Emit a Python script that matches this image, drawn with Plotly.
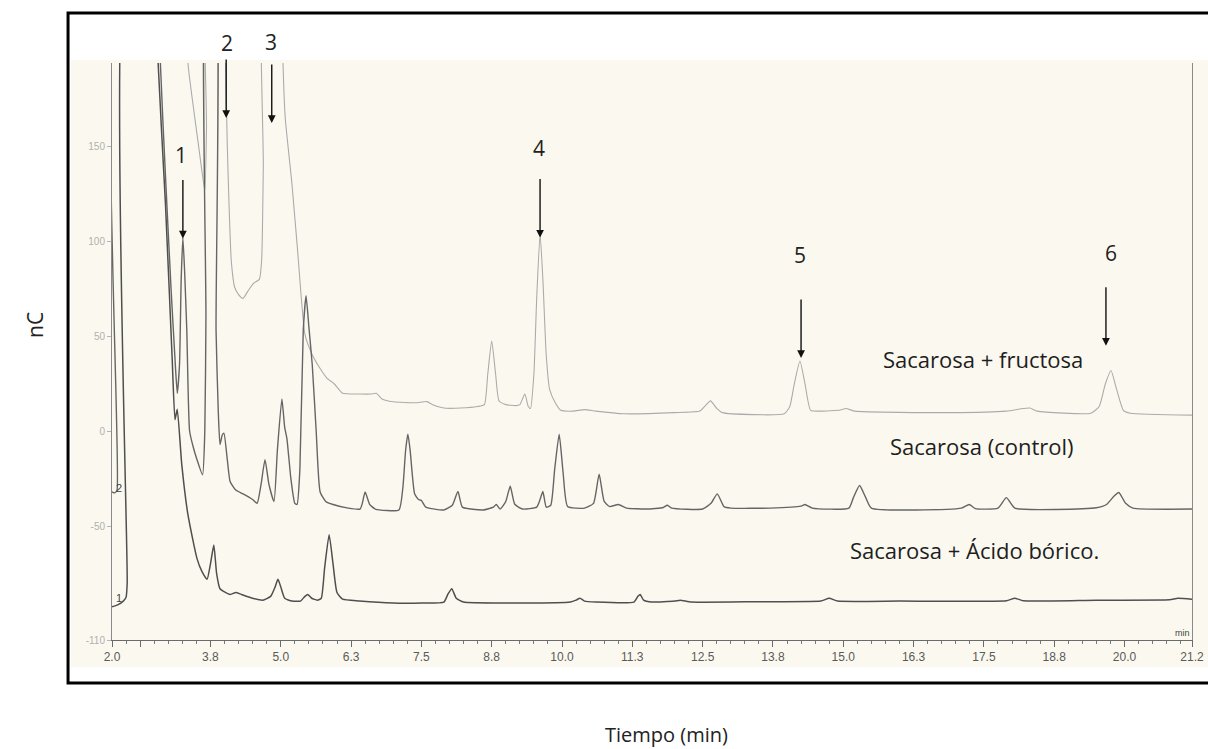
import plotly.graph_objects as go

# --- retention time (min) / signal (nC) for each chromatogram -------------
# values above the axis top (off-scale peaks) are kept at 260 so they clip
t_borico = [2.00, 2.10, 2.20, 2.25, 2.27, 2.28, 2.78, 2.82, 2.95, 3.07, 3.12, 3.16, 3.24, 3.35,
            3.51, 3.60, 3.69, 3.75, 3.81, 3.86, 3.92, 4.10, 4.20, 4.30, 4.50, 4.68, 4.82, 4.90,
            4.95, 5.00, 5.07, 5.20, 5.35, 5.43, 5.48, 5.55, 5.65, 5.72, 5.78, 5.86, 5.93, 6.00,
            6.10, 6.40, 7.00, 7.50, 7.90, 7.97, 8.04, 8.12, 8.25, 9.00, 10.15, 10.25, 10.32,
            10.40, 10.60, 11.28, 11.35, 11.39, 11.45, 11.60, 12.00, 12.10, 12.30, 13.50, 14.60,
            14.75, 14.90, 16.00, 17.90, 18.05, 18.20, 19.50, 20.80, 20.95, 21.20]
v_borico = [-92.5, -91.5, -89.5, -87.5, -80, 260, 260, 194, 120, 38, 6, 11.6, -17.5, -44,
            -67, -74, -78, -70, -60, -75, -83, -86, -85, -86, -88, -89, -87, -82,
            -78, -82, -88, -89.5, -89.5, -87, -86, -88, -89, -88, -72, -54.5, -70, -85,
            -88.5, -89.4, -90.5, -90.5, -90, -86, -83, -88, -90, -90.5, -90, -89, -88,
            -89.5, -90, -90, -87, -86, -89, -90, -89.5, -89, -90, -89.8, -89.5,
            -88, -89.5, -89.5, -89.3, -88, -89.3, -89, -88.8, -88, -88.5]

t_control = [2.00, 2.05, 2.09, 2.10, 2.83, 2.86, 2.95, 3.05, 3.12, 3.16, 3.20, 3.23, 3.26, 3.29,
             3.33, 3.38, 3.45, 3.50, 3.61, 3.65, 3.67, 3.69, 3.82, 3.85, 3.89, 3.92, 3.96, 3.99,
             4.05, 4.10, 4.20, 4.33, 4.50, 4.58, 4.65, 4.72, 4.79, 4.88, 4.94, 5.02, 5.07, 5.11,
             5.18, 5.25, 5.29, 5.34, 5.40, 5.45, 5.50, 5.56, 5.63, 5.70, 5.80, 5.93, 6.20, 6.41,
             6.45, 6.50, 6.58, 6.68, 7.10, 7.17, 7.22, 7.26, 7.30, 7.38, 7.45, 7.50, 7.58, 7.90,
             8.05, 8.15, 8.23, 8.60, 8.78, 8.83, 8.90, 9.00, 9.08, 9.16, 9.30, 9.55, 9.61, 9.66,
             9.72, 9.80, 9.87, 9.95, 10.02, 10.10, 10.40, 10.56, 10.66, 10.75, 10.85, 11.00,
             11.15, 11.50, 11.80, 11.87, 11.95, 12.50, 12.65, 12.76, 12.88, 13.00, 13.70, 14.25,
             14.32, 14.45, 15.10, 15.18, 15.29, 15.40, 15.50, 17.10, 17.24, 17.35, 17.75, 17.90,
             18.05, 19.50, 19.68, 19.82, 19.90, 20.02, 20.15, 21.20]
v_control = [-32, -32.5, -31, 260, 260, 194, 135, 75, 38, 20, 35, 80, 102, 85,
             53, 0, -9, -14, -23, 0, 60, 260, 260, 53, 10, -7, -2, -1,
             -15, -26.5, -31, -33, -36, -38, -28, -15, -28, -37, -10, 17, 2, -4,
             -25, -38, -38.6, -20, 53, 71.4, 55, 35, 0, -32, -37, -38.6, -40.5, -41,
             -38, -32, -38.5, -41, -41.5, -30, -10, -1.6, -10, -33, -36, -36.5, -40, -41.5,
             -39, -31.7, -40, -41.5, -40, -38.6, -41, -37, -29, -38.5, -41, -40, -36, -31.7,
             -40, -39, -20, -1.6, -22, -39.7, -40.5, -38, -22.7, -37, -39.7, -38.6,
             -40.5, -41, -40.2, -39, -40.5, -41, -38, -33, -39.7, -40.5, -40.5, -39.5,
             -38.6, -40.5, -40.5, -35, -28.6, -35, -40.5, -40.5, -38.6, -40.8, -40.5, -35,
             -40.5, -40.3, -38.6, -34, -32.3, -38, -40.5, -41]

t_fructosa = [2.00, 3.30, 3.35, 3.45, 3.55, 3.65, 3.68, 3.70, 3.98, 4.02, 4.05, 4.08, 4.12, 4.18,
              4.25, 4.33, 4.42, 4.52, 4.62, 4.66, 4.69, 4.71, 5.00, 5.04, 5.08, 5.20, 5.30, 5.43,
              5.55, 5.70, 5.82, 5.95, 6.10, 6.41, 6.60, 6.70, 6.80, 7.00, 7.40, 7.60, 7.70, 7.90,
              8.20, 8.50, 8.62, 8.68, 8.75, 8.82, 8.88, 9.00, 9.18, 9.25, 9.34, 9.40, 9.44, 9.50,
              9.55, 9.61, 9.66, 9.72, 9.78, 9.88, 9.98, 10.20, 10.40, 10.60, 11.10, 12.00, 12.45,
              12.55, 12.64, 12.75, 12.85, 13.95, 14.05, 14.13, 14.23, 14.32, 14.42, 14.60, 14.95,
              15.05, 15.20, 16.90, 17.90, 18.20, 18.32, 18.45, 19.40, 19.55, 19.66, 19.76, 19.86,
              19.98, 20.10, 21.20]
v_fructosa = [260, 260, 194, 170, 148, 127, 160, 260, 260, 194, 150, 120, 90, 76,
              72, 70, 74, 78, 80, 90, 140, 260, 260, 194, 165, 130, 95, 51,
              41, 33, 28, 25, 20, 19.6, 19.6, 20, 17, 15.5, 15, 15.6, 14, 12.2,
              12.2, 13, 14, 30, 47.6, 30, 16, 14, 13.5, 14, 19.6, 13, 12, 30,
              70, 104, 80, 40, 22, 15, 11, 10.6, 11.4, 10.6, 9.2, 9.8, 10.6,
              13.5, 16, 12, 9.8, 9.2, 13, 25, 37, 25, 11, 10.6, 11.2,
              12, 10.6, 9.8, 10.6, 12, 12.2, 10.6, 9.5, 13, 25, 32, 22,
              11, 9.5, 8.5]

# axis ticks
Y_MIN, Y_MAX = -110, 194
x_tick_vals = [2.0, 2.5, 3.75, 5.0, 6.25, 7.5, 8.75, 10.0, 11.25, 12.5, 13.75, 15.0,
               16.25, 17.5, 18.75, 20.0, 21.2]
x_tick_text = ["2.0", "", "3.8", "5.0", "6.3", "7.5", "8.8", "10.0", "11.3", "12.5",
               "13.8", "15.0", "16.3", "17.5", "18.8", "20.0", "21.2"]
y_tick_vals = [-110, -50, 0, 50, 100, 150]
y_tick_text = ["-110", "-50", "0", "50", "100", "150"]

# numbered peaks: label, arrow tip (min, nC), label position (min, nC)
peak_ids = ["1", "2", "3", "4", "5", "6"]
arrow_t = [3.26, 4.03, 4.84, 9.61, 14.25, 19.67]
arrow_v = [101.6, 165, 162.4, 102, 38.6, 45]
label_t = [3.23, 4.04, 4.83, 9.59, 14.23, 19.76]
label_v = [145.5, 204.8, 205, 149, 92.6, 94]

# sample names written next to the traces
sample_names = ["Sacarosa + fructosa", "Sacarosa (control)", "Sacarosa + Ácido bórico."]
sample_t = [17.48, 17.47, 17.34]
sample_v = [38, -8, -62.4]

CREAM = "#FBF9EF"
TEXT_FONT = "'Open Sans', Lato, sans-serif"
LINE = dict(shape="spline", smoothing=0.5)


def to_paper_y(v):
    # data value -> paper fraction, so labels above the axis top stay visible
    return (v - Y_MIN) / (Y_MAX - Y_MIN)


fig = go.Figure()
fig.add_trace(go.Scatter(x=t_fructosa, y=v_fructosa, mode="lines",
                         line=dict(color="#ABABAB", width=1.1, **LINE), name="3"))
fig.add_trace(go.Scatter(x=t_control, y=v_control, mode="lines",
                         line=dict(color="#656565", width=1.4, **LINE), name="2"))
fig.add_trace(go.Scatter(x=t_borico, y=v_borico, mode="lines",
                         line=dict(color="#4F4F4F", width=1.5, **LINE), name="1"))

annotations = []
for pid, at, av, lt, lv in zip(peak_ids, arrow_t, arrow_v, label_t, label_v):
    annotations.append(dict(x=at, y=av, xref="x", yref="y", ax=0, ay=-60, text="",
                            showarrow=True, arrowhead=2, arrowsize=1.1, arrowwidth=1.4,
                            arrowcolor="#111111", standoff=0))
    annotations.append(dict(x=lt, y=to_paper_y(lv), xref="x", yref="paper", text=pid,
                            showarrow=False, xanchor="center", yanchor="middle",
                            font=dict(family=TEXT_FONT, size=21, color="#222222")))
for name, st, sv in zip(sample_names, sample_t, sample_v):
    annotations.append(dict(x=st, y=sv, xref="x", yref="y", text=name, showarrow=False,
                            xanchor="center",
                            font=dict(family=TEXT_FONT, size=22, color="#1E1E1E")))

# trace numbers at the start of each run and the unit mark at the axis end
annotations += [
    dict(x=2.03, y=-88, xref="x", yref="y", text="1", showarrow=False, xanchor="left",
         font=dict(family="Liberation Sans", size=11, color="#444444")),
    dict(x=2.03, y=-30, xref="x", yref="y", text="2", showarrow=False, xanchor="left",
         font=dict(family="Liberation Sans", size=11, color="#444444")),
    dict(x=21.2, y=-110, xref="x", yref="y", text="min", showarrow=False,
         xanchor="right", yanchor="bottom",
         font=dict(family="Liberation Sans", size=9, color="#444444")),
    dict(x=-0.0713, y=0.546, xref="paper", yref="paper", text="nC", showarrow=False,
         xanchor="center", yanchor="middle", textangle=-90,
         font=dict(family=TEXT_FONT, size=21, color="#222222")),
    dict(x=0.513, y=-0.163, xref="paper", yref="paper", text="Tiempo (min)", showarrow=False,
         xanchor="center", yanchor="middle",
         font=dict(family=TEXT_FONT, size=20, color="#222222")),
]

shapes = [
    # cream backdrop of the chromatogram printout
    dict(type="rect", xref="paper", yref="paper", x0=-0.038, x1=1.02, y0=-0.0468, y1=1.005,
         fillcolor=CREAM, line=dict(width=0), layer="below"),
    # black frame around the printout
    dict(type="rect", xref="paper", yref="paper", x0=-0.0407, x1=1.0185, y0=-0.0745, y1=1.0867,
         fillcolor="rgba(0,0,0,0)", line=dict(color="black", width=3), layer="above"),
]

fig.update_layout(
    width=1208, height=749, autosize=False,
    margin=dict(l=112, r=16, t=63, b=109, autoexpand=False),
    paper_bgcolor="white", plot_bgcolor=CREAM,
    showlegend=False,
    annotations=annotations, shapes=shapes,
    xaxis=dict(range=[2.0, 21.2], tickvals=x_tick_vals, ticktext=x_tick_text,
               automargin=False,
               ticks="outside", ticklen=6, tickcolor="#6A6A6A", tickwidth=1,
               minor=dict(tick0=2.0, dtick=0.25, ticks="outside", ticklen=3,
                          tickcolor="#7A7A7A"),
               showline=True, linecolor="#6A6A6A", linewidth=1, showgrid=False,
               zeroline=False,
               tickfont=dict(family="Liberation Sans", size=12, color="#5A5A5A")),
    yaxis=dict(range=[Y_MIN, Y_MAX], tickvals=y_tick_vals, ticktext=y_tick_text,
               automargin=False,
               ticks="outside", ticklen=4, tickcolor="#B5B5B5",
               showline=True, mirror=True, linecolor="#8A8A8A", linewidth=1,
               showgrid=False, zeroline=False,
               tickfont=dict(family="Liberation Sans", size=10, color="#B0B0B0")),
)

fig.write_html("out.html")
